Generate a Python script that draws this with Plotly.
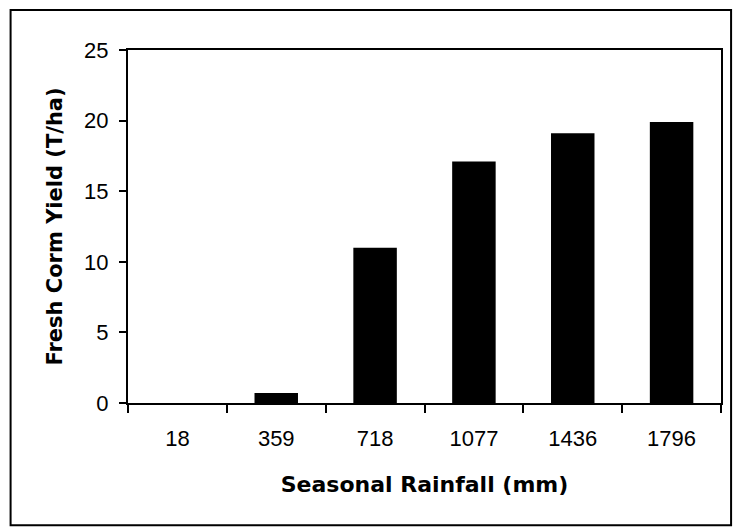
import plotly.graph_objects as go

# Seasonal rainfall categories (mm) and fresh corm yield (T/ha)
rainfall = ["18", "359", "718", "1077", "1436", "1796"]
corm_yield = [0, 0.7, 11, 17.1, 19.1, 19.9]
y_ticks = [0, 5, 10, 15, 20, 25]

tick_font = "Liberation Sans, Arial, sans-serif"
title_font = "DejaVu Sans, Verdana, sans-serif"

fig = go.Figure(
    go.Bar(
        x=rainfall,
        y=corm_yield,
        marker=dict(color="black", line=dict(width=0)),
        width=0.44,
    )
)

# outer chart border
fig.add_shape(
    type="rect", xref="paper", yref="paper",
    x0=-0.198, x1=1.017, y0=-0.346, y1=1.113,
    line=dict(color="black", width=2), fillcolor="rgba(0,0,0,0)",
)

fig.update_layout(
    width=735, height=529,
    margin=dict(l=128, r=12, t=50, b=126),
    paper_bgcolor="white", plot_bgcolor="white",
    showlegend=False,
    font=dict(family=tick_font, color="black", size=22),
    xaxis=dict(
        type="category",
        range=[-0.5, 5.5],
        showline=True, linecolor="black", linewidth=2, mirror=True,
        ticks="outside", tickson="boundaries", ticklen=8, tickcolor="black",
        tickwidth=1.5,
        showgrid=False,
        tickfont=dict(size=22, family=tick_font),
        ticklabelstandoff=15,
        title=dict(text="<b>Seasonal Rainfall (mm)</b>",
                   font=dict(size=22, family=title_font), standoff=26),
    ),
    yaxis=dict(
        range=[0, 25],
        tickvals=y_ticks,
        showline=True, linecolor="black", linewidth=2, mirror=True,
        ticks="outside", ticklen=7, tickcolor="black", tickwidth=1.5,
        showgrid=False, zeroline=False,
        tickfont=dict(size=22, family=tick_font),
        ticklabelstandoff=6,
        title=dict(text="<b>Fresh Corm Yield (T/ha)</b>",
                   font=dict(size=21, family=title_font), standoff=16),
    ),
)

fig.write_html("out.html")
